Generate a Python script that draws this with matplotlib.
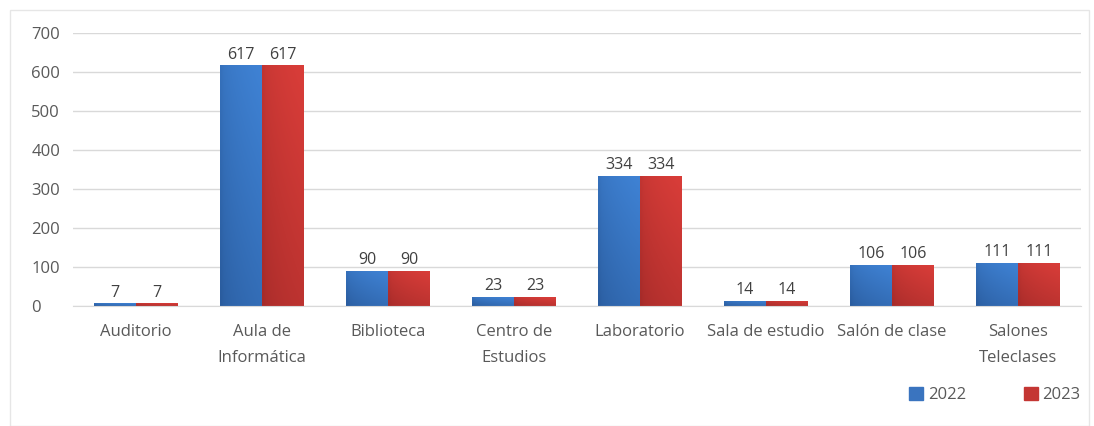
import numpy as np
import matplotlib.pyplot as plt
from matplotlib.patches import Rectangle
from matplotlib.colors import LinearSegmentedColormap

plt.rcParams['font.family'] = ['Open Sans', 'DejaVu Sans']

categories = ["Auditorio", "Aula de\nInformática", "Biblioteca", "Centro de\nEstudios",
              "Laboratorio", "Sala de estudio", "Salón de clase", "Salones\nTeleclases"]
series_names = ["2022", "2023"]
values_2022 = [7, 617, 90, 23, 334, 14, 106, 111]
values_2023 = [7, 617, 90, 23, 334, 14, 106, 111]
yticks = [0, 100, 200, 300, 400, 500, 600, 700]

text_color = "#595959"
# (light, dark) colours of the gradient fill
grad = {"2022": ("#3f82d4", "#2a5c9e"), "2023": ("#d93d39", "#a52b29")}
solid = {"2022": "#3a74bf", "2023": "#c43633"}

fig = plt.figure(figsize=(10.94, 4.26), dpi=100)
ax = fig.add_axes([73 / 1094, 1 - 306 / 426, 1008 / 1094, 273 / 426])

x = np.arange(len(categories))
w = 0.333

# diagonal shading: darker at bottom-left, lighter at top-right
gy, gx = np.mgrid[0:1:64j, 0:1:16j]
shade = np.clip(0.55 * gy + 0.45 * np.sqrt(gx), 0, 1)

for vals, name, off in [(values_2022, "2022", -w / 2), (values_2023, "2023", w / 2)]:
    bars = ax.bar(x + off, vals, w, color=solid[name], label=name, zorder=2)
    cmap = LinearSegmentedColormap.from_list(name, [grad[name][1], grad[name][0]])
    for b, v in zip(bars, vals):
        b.set_facecolor("none")
        img = ax.imshow(shade, cmap=cmap, origin="lower", vmin=0, vmax=1,
                        extent=[b.get_x(), b.get_x() + b.get_width(), 0, v],
                        aspect="auto", zorder=2, interpolation="bilinear")
        img.set_clip_path(b)
        ax.text(b.get_x() + b.get_width() / 2, v + 7, str(v), ha="center", va="bottom",
                fontsize=11.5, color="#404040")

ax.set_xlim(-0.5, len(categories) - 0.5)
ax.set_ylim(0, 700)
ax.set_yticks(yticks)
ax.set_xticks(x)
ax.set_xticklabels(categories, fontsize=12, color=text_color, linespacing=1.8)
ax.tick_params(axis="y", labelsize=12, labelcolor=text_color, length=0, pad=30)
ax.tick_params(axis="x", length=0, pad=13)
ax.grid(axis="y", color="#d9d9d9", linewidth=1, zorder=0)
for s in ["top", "right", "left"]:
    ax.spines[s].set_visible(False)
ax.spines["bottom"].set_color("#d9d9d9")
for lbl in ax.get_yticklabels():
    lbl.set_horizontalalignment("left")

handles = [Rectangle((0, 0), 1, 1, color=solid[n]) for n in series_names]
fig.legend(handles, series_names, loc="center", bbox_to_anchor=(995 / 1094, 1 - 395 / 426),
           ncol=2, frameon=False, fontsize=12, labelcolor=text_color,
           handlelength=0.8, handleheight=0.8, handletextpad=0.3, columnspacing=3.5)

fig.add_artist(Rectangle((10 / 1094, 0.0), 1079 / 1094, 1 - 10 / 426, transform=fig.transFigure,
                         fill=False, edgecolor="#e6e6e6", linewidth=1))

fig.savefig("out.png", dpi=100)
